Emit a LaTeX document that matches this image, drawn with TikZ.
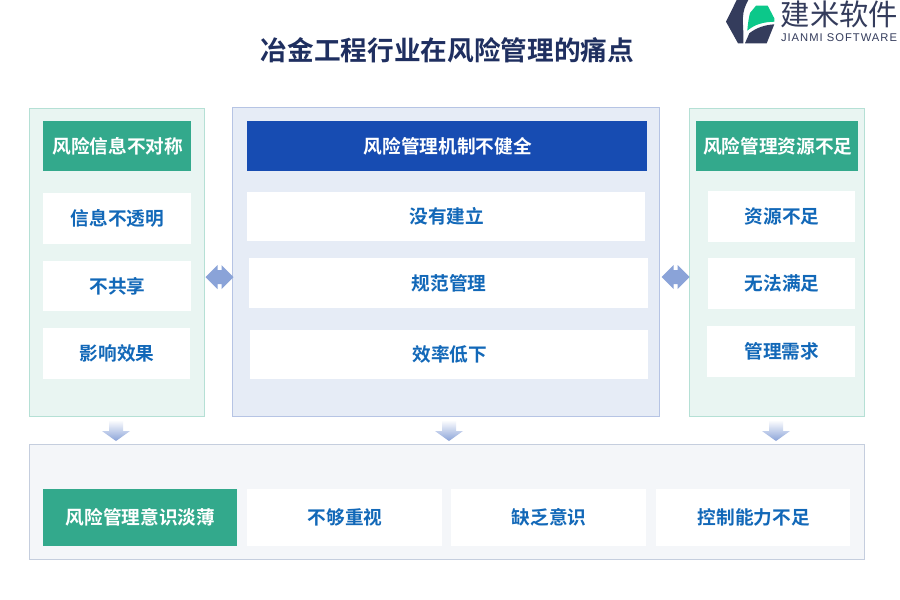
\documentclass[tikz,border=0pt]{standalone}
\usepackage{fontspec}
\setmainfont{Noto Sans CJK SC}[BoldFont={Noto Sans CJK SC Bold}]
\newfontfamily\latinfont{Liberation Sans}[LetterSpace=9]
\definecolor{titleC}{HTML}{1F2F60}
\definecolor{txtC}{HTML}{1268B8}
\definecolor{greenH}{HTML}{33A98C}
\definecolor{blueH}{HTML}{174CB2}
\definecolor{panelG}{HTML}{E9F5F2}
\definecolor{edgeG}{HTML}{B5E0D5}
\definecolor{panelB}{HTML}{E6ECF6}
\definecolor{edgeB}{HTML}{B6C4E4}
\definecolor{panelS}{HTML}{F4F6F9}
\definecolor{edgeS}{HTML}{C5CEDE}
\definecolor{arrowC}{HTML}{8AA3D8}
\definecolor{logoD}{HTML}{343C5C}
\definecolor{logoG}{HTML}{0CC88A}
\usetikzlibrary{calc}
\tikzset{
  x=0.75pt,y=-0.75pt,
  boxbase/.style={rectangle,inner sep=0pt,outer sep=0pt,align=center,font=\bfseries\fontsize{14}{16}\selectfont},
  greenpanel/.style={boxbase,fill=panelG,draw=edgeG,line width=0.75pt},
  bluepanel/.style={boxbase,fill=panelB,draw=edgeB,line width=0.75pt},
  greypanel/.style={boxbase,fill=panelS,draw=edgeS,line width=0.75pt},
  greenhead/.style={boxbase,fill=greenH,text=white},
  bluehead/.style={boxbase,fill=blueH,text=white},
  itembox/.style={boxbase,fill=white,text=txtC},
  downarrow/.style={top color=white,bottom color=arrowC,draw=none},
  duplex/.style={fill=arrowC,draw=none}
}
% name, x1, y1, x2, y2, style, text
\newcommand{\pxbox}[7]{%
  \pgfmathsetmacro{\cxv}{(#2+#4)/2}%
  \pgfmathsetmacro{\cyv}{(#3+#5)/2}%
  \pgfmathsetmacro{\wv}{(#4-#2)*0.75}%
  \pgfmathsetmacro{\hv}{(#5-#3)*0.75}%
  \node[#6,minimum width=\wv pt,minimum height=\hv pt] (#1) at (\cxv,\cyv) {\raisebox{0.6pt}{\hspace{1pt}#7}};%
}
\newcommand{\downarr}[2]{% centre x, name
  \coordinate (#2) at (#1,431);
  \path[downarrow] ($(#2)+(-7,-11)$) -- ($(#2)+(7,-11)$) -- ($(#2)+(7,0)$) -- ($(#2)+(14,0)$) -- ($(#2)+(0,10)$) -- ($(#2)+(-14,0)$) -- ($(#2)+(-7,0)$) -- cycle;
}
\newcommand{\duplexarr}[2]{% centre x, name
  \coordinate (#2) at (#1,277);
  \path[duplex] ($(#2)+(-14,0)$) -- ($(#2)+(-2,-12)$) -- ($(#2)+(-2,-7)$) -- ($(#2)+(2,-7)$) -- ($(#2)+(2,-12)$) -- ($(#2)+(14,0)$) -- ($(#2)+(2,12)$) -- ($(#2)+(2,7)$) -- ($(#2)+(-2,7)$) -- ($(#2)+(-2,12)$) -- cycle;
}
\begin{document}
\begin{tikzpicture}
\useasboundingbox (0,0) rectangle (900,600);
\fill[white] (0,0) rectangle (900,600);
% logo
\fill[logoD] (726,21.7) -- (736.7,0) -- (748.3,0) .. controls (745,6) and (743.3,11) .. (743,17) .. controls (742.5,25) and (744,35) .. (743.3,43.3) -- (738,43.3) -- cycle;
\fill[logoG] (747.3,30.7) .. controls (748,22) and (749,17) .. (750,13) -- (756,5.7) -- (767.7,5.7) -- (774.3,18.3) -- (774.3,21.7) .. controls (764,22) and (755,24) .. (747.3,30.7) -- cycle;
\fill[logoD] (745,43.3) -- (749.3,33.3) .. controls (756,28) and (764,25) .. (774.3,24.3) -- (766.7,43.3) -- cycle;
\node[inner sep=0pt,anchor=center,text=logoD,font=\fontsize{22}{24}\selectfont] (logoCn) at (839.5,14) {建米软件};
\node[inner sep=0pt,anchor=center,text=logoD,font=\latinfont\fontsize{8.4}{10}\selectfont] (logoEn) at (839,38) {JIANMI SOFTWARE};
% title
\node[inner sep=0pt,text=titleC,font=\bfseries\fontsize{20}{24}\selectfont] (title) at (447.5,50.5) {冶金工程行业在风险管理的痛点};
% panels
\pxbox{pL}{29.5}{108}{204.5}{416.5}{greenpanel}{}
\pxbox{pC}{232.5}{107.5}{659.5}{416.5}{bluepanel}{}
\pxbox{pR}{689.5}{108}{864.5}{416.5}{greenpanel}{}
\pxbox{pB}{29.5}{444.5}{864.5}{559.5}{greypanel}{}
% left
\pxbox{hL}{43}{121}{191}{171}{greenhead}{风险信息不对称}
\pxbox{l1}{43}{193}{191}{244}{itembox}{信息不透明}
\pxbox{l2}{43}{261}{191}{311}{itembox}{不共享}
\pxbox{l3}{43}{328}{190}{379}{itembox}{影响效果}
% centre
\pxbox{hC}{247}{121}{647}{171}{bluehead}{风险管理机制不健全}
\pxbox{c1}{247}{192}{645}{241}{itembox}{没有建立}
\pxbox{c2}{249}{258}{648}{308}{itembox}{规范管理}
\pxbox{c3}{250}{330}{648}{379}{itembox}{效率低下}
% right
\pxbox{hR}{696}{121}{858}{171}{greenhead}{风险管理资源不足}
\pxbox{r1}{708}{191}{855}{242}{itembox}{资源不足}
\pxbox{r2}{708}{258}{855}{309}{itembox}{无法满足}
\pxbox{r3}{707}{326}{855}{377}{itembox}{管理需求}
% bottom
\pxbox{hB}{43}{489}{237}{546}{greenhead}{风险管理意识淡薄}
\pxbox{b1}{247}{489}{442}{546}{itembox}{不够重视}
\pxbox{b2}{451}{489}{646}{546}{itembox}{缺乏意识}
\pxbox{b3}{656}{489}{850}{546}{itembox}{控制能力不足}
% arrows
\duplexarr{219.5}{dL}
\duplexarr{675.5}{dR}
\downarr{116}{a1}
\downarr{449}{a2}
\downarr{776}{a3}
\end{tikzpicture}
\end{document}
